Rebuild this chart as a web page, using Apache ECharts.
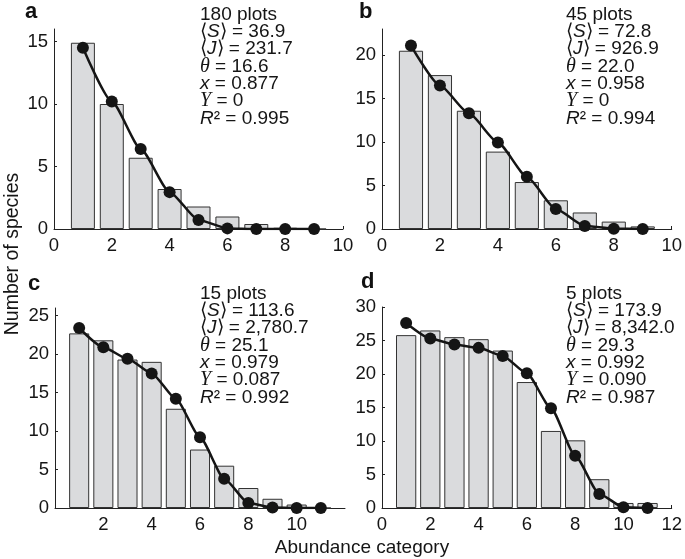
<!DOCTYPE html>
<html>
<head>
<meta charset="utf-8">
<script src="https://cdn.jsdelivr.net/npm/echarts@6/dist/echarts.min.js"></script>
<style>html,body{margin:0;padding:0;background:#fff}#c{width:685px;height:559px}</style>
</head>
<body>
<div id="c"></div>
<script>
// ---- data ----
const catsAB = [1, 2, 3, 4, 5, 6, 7, 8, 9];
const catsCD = [1, 2, 3, 4, 5, 6, 7, 8, 9, 10, 11];
const barsA = [14.9, 10.0, 5.7, 3.2, 1.8, 1.0, 0.4, 0.1, 0];
const lineA = [14.5, 10.2, 6.4, 2.95, 0.72, 0.05, 0, 0, 0];
const barsB = [20.5, 17.7, 13.6, 8.9, 5.4, 3.3, 1.9, 0.85, 0.3];
const lineB = [21.1, 16.5, 13.3, 9.95, 6.0, 2.3, 0.35, 0.03, 0];
const barsC = [22.7, 21.8, 19.3, 19.0, 12.9, 7.6, 5.5, 2.6, 1.2, 0.45, 0];
const lineC = [23.4, 20.9, 19.4, 17.5, 14.2, 9.2, 3.8, 0.65, 0.05, 0, 0];
const barsD = [25.8, 26.5, 25.5, 25.2, 23.5, 18.8, 11.5, 10.1, 4.3, 0.75, 0.75];
const lineD = [27.6, 25.3, 24.4, 23.9, 22.7, 20.1, 14.9, 7.8, 2.1, 0.1, 0];

const xTicksA = [0, 2, 4, 6, 8, 10];
const xTicksB = [0, 2, 4, 6, 8, 10];
const xTicksC = [2, 4, 6, 8, 10];
const xTicksD = [0, 2, 4, 6, 8, 10, 12];
const yTicksA = [0, 5, 10, 15];
const yTicksB = [0, 5, 10, 15, 20];
const yTicksC = [0, 5, 10, 15, 20, 25];
const yTicksD = [0, 5, 10, 15, 20, 25, 30];

const panelLetters = ['a', 'b', 'c', 'd'];
const plotsLabels = ['180 plots', '45 plots', '15 plots', '5 plots'];
const meanS = ['36.9', '72.8', '113.6', '173.9'];
const meanJ = ['231.7', '926.9', '2,780.7', '8,342.0'];
const thetaV = ['16.6', '22.0', '25.1', '29.3'];
const xV = ['0.877', '0.958', '0.979', '0.992'];
const YV = ['0', '0', '0.087', '0.090'];
const R2V = ['0.995', '0.994', '0.992', '0.987'];

// ---- layout ----
const FONT = 'Liberation Sans';
const grids = [
  {left: 54, top: 29, width: 289, height: 200, xmax: 10, ymax: 16},
  {left: 382, top: 29, width: 291, height: 200, xmax: 10, ymax: 23},
  {left: 55, top: 308, width: 290, height: 200, xmax: 12, ymax: 26},
  {left: 382, top: 307, width: 293, height: 201, xmax: 12, ymax: 30}
];
const panels = [
  {cats: catsAB, bars: barsA, line: lineA, xt: xTicksA, yt: yTicksA},
  {cats: catsAB, bars: barsB, line: lineB, xt: xTicksB, yt: yTicksB},
  {cats: catsCD, bars: barsC, line: lineC, xt: xTicksC, yt: yTicksC},
  {cats: catsCD, bars: barsD, line: lineD, xt: xTicksD, yt: yTicksD}
];
const annoPos = [[200, 5], [566, 5], [200, 284], [566, 284]];
const letterPos = [[25, 1], [359, 1], [28, 273], [361, 271]];

const axisCommon = {
  axisLine: {show: true, lineStyle: {color: '#222', width: 1}},
  axisTick: {show: true, inside: true, length: 3, lineStyle: {color: '#222'}},
  splitLine: {show: false},
};

const option = {
  animation: false,
  backgroundColor: '#fff',
  grid: grids.map(g => ({left: g.left, top: g.top, width: g.width, height: g.height, containLabel: false})),
  xAxis: grids.map((g, i) => Object.assign({}, axisCommon, {
    type: 'value', gridIndex: i, min: 0, max: g.xmax,
    axisTick: Object.assign({}, axisCommon.axisTick, {customValues: panels[i].xt}),
    axisLabel: {customValues: panels[i].xt, fontFamily: FONT, fontSize: 18.5, color: '#151515', margin: 7}
  })),
  yAxis: grids.map((g, i) => Object.assign({}, axisCommon, {
    type: 'value', gridIndex: i, min: 0, max: g.ymax,
    axisTick: Object.assign({}, axisCommon.axisTick, {customValues: panels[i].yt}),
    axisLabel: {customValues: panels[i].yt, fontFamily: FONT, fontSize: 18.5, color: '#151515', margin: 6}
  })),
  series: [],
  graphic: []
};

panels.forEach((p, i) => {
  const g = grids[i];
  const bw = 0.83 * g.width / g.xmax;
  option.series.push({
    type: 'bar', xAxisIndex: i, yAxisIndex: i,
    data: p.cats.map((c, k) => [c, p.bars[k]]),
    barWidth: bw,
    itemStyle: {color: '#dadbdd', borderColor: '#333', borderWidth: 1},
    z: 2
  });
  option.series.push({
    type: 'line', xAxisIndex: i, yAxisIndex: i,
    data: p.cats.map((c, k) => [c, p.line[k]]),
    smooth: 0.2, smoothMonotone: 'x',
    symbol: 'circle', symbolSize: 12,
    lineStyle: {color: '#151515', width: 2.5},
    itemStyle: {color: '#151515'},
    z: 3
  });
  const lines = [
    plotsLabels[i],
    '⟨{it|S}⟩ = ' + meanS[i],
    '⟨{it|J}⟩ = ' + meanJ[i],
    '{sr|θ} = ' + thetaV[i],
    '{it|x} = ' + xV[i],
    '{sr|Y} = ' + YV[i],
    '{it|R}² = ' + R2V[i]
  ];
  option.graphic.push({
    type: 'text', left: annoPos[i][0], top: annoPos[i][1], z: 10,
    style: {
      text: lines.join('\n'), fontFamily: FONT, fontSize: 19, fill: '#151515', lineHeight: 17.3,
      rich: {
        it: {fontFamily: FONT, fontStyle: 'italic', fontSize: 19, lineHeight: 17.3},
        sr: {fontFamily: 'Liberation Serif', fontStyle: 'italic', fontSize: 20, lineHeight: 17.3}
      }
    }
  });
  option.graphic.push({
    type: 'text', left: letterPos[i][0], top: letterPos[i][1], z: 10,
    style: {text: panelLetters[i], fontFamily: FONT, fontWeight: 'bold', fontSize: 22, fill: '#111'}
  });
});

option.graphic.push({
  type: 'text', x: 13, y: 254, rotation: Math.PI / 2, z: 10,
  style: {text: 'Number of species', fontFamily: FONT, fontSize: 19.5, fill: '#151515', align: 'center', verticalAlign: 'middle'}
});
option.graphic.push({
  type: 'text', x: 362, y: 548, z: 10,
  style: {text: 'Abundance category', fontFamily: FONT, fontSize: 19, fill: '#151515', align: 'center', verticalAlign: 'middle'}
});

const chart = echarts.init(document.getElementById('c'));
chart.setOption(option);
</script>
</body>
</html>
